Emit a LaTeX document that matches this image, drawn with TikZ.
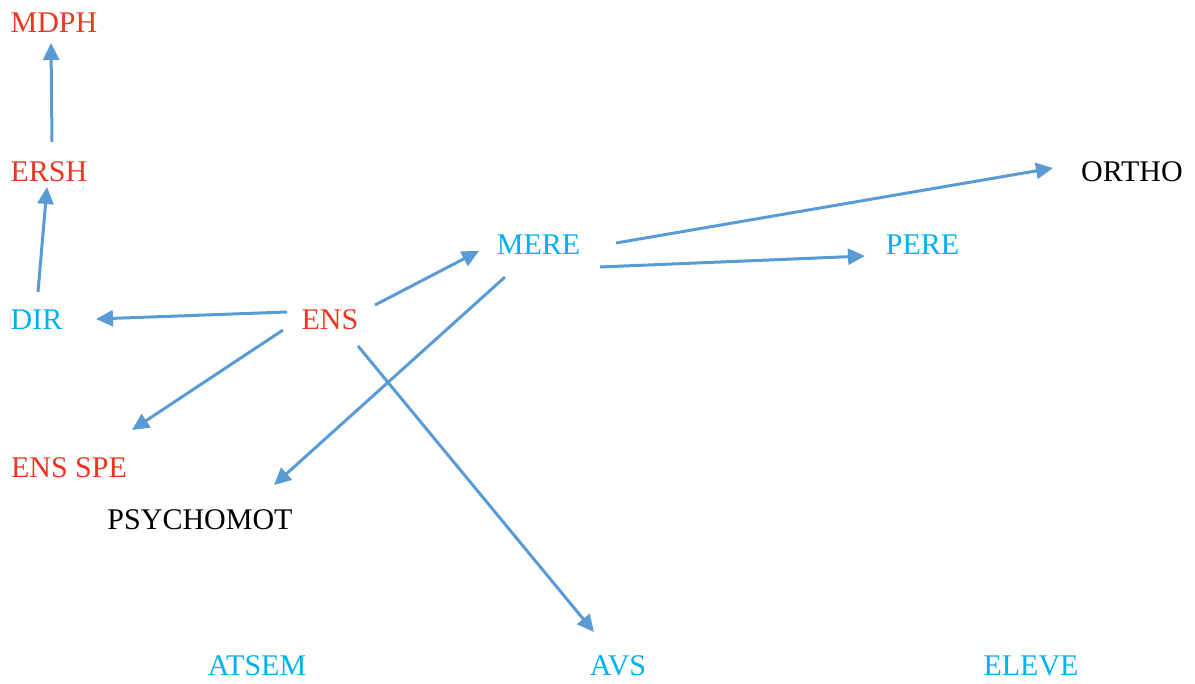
\documentclass[tikz,border=0pt]{standalone}
\usepackage{fontspec}
\setmainfont{Liberation Serif}
\usetikzlibrary{arrows.meta}
\definecolor{fleche}{RGB}{91,155,213}
\definecolor{bleu}{RGB}{0,176,240}
\definecolor{rouge}{RGB}{234,56,32}
\begin{document}
\begin{tikzpicture}[x=0.5pt,y=-0.5pt,
    every node/.style={inner sep=0pt,font=\fontsize{15}{18}\selectfont},
    r/.style={text=rouge}, b/.style={text=bleu}, n/.style={text=black},
    lien/.style={color=fleche,line width=1.5pt,-{Triangle[length=8.5pt,width=8pt]}}]
   \useasboundingbox (0,0) rectangle (1195,684);
   \node[r] (MDPH)   at (54,23)    {MDPH};
   \node[r] (ERSH)   at (49,172)   {ERSH};
   \node[b] (DIR)    at (36.5,320) {DIR};
   \node[r] (ENS)    at (330,320)  {ENS};
   \node[b] (MERE)   at (538.5,245) {MERE};
   \node[b] (PERE)   at (922.5,245) {PERE};
   \node[n] (ORTHO)  at (1132,172) {ORTHO};
   \node[r] (ENSSPE) at (69,468)   {ENS SPE};
   \node[n] (PSY)    at (200,520)  {PSYCHOMOT};
   \node[b] (ATSEM)  at (257,666)  {ATSEM};
   \node[b] (AVS)    at (618,666)  {AVS};
   \node[b] (ELEVE)  at (1031,666) {ELEVE};
   \path[lien]
     ([shift={(3,-30)}]ERSH.center)   edge ([shift={(-3,20)}]MDPH.center)
     ([shift={(1.5,-28)}]DIR.center)  edge ([shift={(-2,15)}]ERSH.center)
     ([shift={(-43,-8)}]ENS.center)   edge ([shift={(59.5,-1)}]DIR.center)
     ([shift={(45,-15)}]ENS.center)   edge ([shift={(-59.5,6)}]MERE.center)
     ([shift={(-47,10)}]ENS.center)   edge ([shift={(63,-38)}]ENSSPE.center)
     ([shift={(28,26)}]ENS.center)    edge ([shift={(-24,-34)}]AVS.center)
     ([shift={(-33.5,32)}]MERE.center) edge ([shift={(74,-35)}]PSY.center)
     ([shift={(77.5,-2)}]MERE.center) edge ([shift={(-79,-4)}]ORTHO.center)
     ([shift={(61.5,22)}]MERE.center) edge ([shift={(-57.5,11)}]PERE.center);
\end{tikzpicture}
\end{document}
